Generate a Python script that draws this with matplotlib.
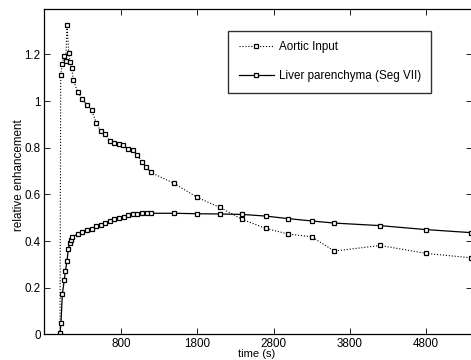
import matplotlib
matplotlib.use('Agg')
import matplotlib.pyplot as plt

# aortic input (dotted) : time [s], relative enhancement
aorta_t = [0, 9, 30, 52, 75, 92, 114, 131, 153, 175, 232, 292, 354, 415, 476, 533,
           590, 651, 712, 773, 830, 891, 953, 1013, 1075, 1131, 1193,
           1494, 1799, 2097, 2389, 2696, 2992, 3298, 3595, 4198, 4797, 5387]
aorta_y = [0.0, 1.110, 1.159, 1.193, 1.171, 1.326, 1.207, 1.166, 1.140, 1.089, 1.040,
           1.009, 0.983, 0.960, 0.907, 0.870, 0.857, 0.829, 0.821, 0.816, 0.810,
           0.794, 0.789, 0.769, 0.740, 0.716, 0.694,
           0.647, 0.587, 0.544, 0.493, 0.454, 0.430, 0.418, 0.357, 0.381, 0.347, 0.328]

# liver parenchyma (solid)
liver_t = [0, 13, 30, 56, 70, 92, 109, 131, 144, 161, 232, 292, 354, 415, 476, 533,
           594, 655, 712, 773, 835, 896, 957, 1013, 1075, 1136, 1197,
           1494, 1799, 2097, 2389, 2696, 2992, 3298, 3595, 4198, 4797, 5387]
liver_y = [0.004, 0.050, 0.171, 0.233, 0.270, 0.316, 0.367, 0.393, 0.404, 0.418,
           0.430, 0.437, 0.446, 0.453, 0.463, 0.470, 0.478, 0.486, 0.494, 0.498,
           0.504, 0.510, 0.514, 0.517, 0.519, 0.519, 0.519,
           0.519, 0.517, 0.516, 0.514, 0.507, 0.496, 0.486, 0.477, 0.466, 0.449, 0.436]

x_ticks = [800, 1800, 2800, 3800, 4800]
y_ticks = [0, 0.2, 0.4, 0.6, 0.8, 1.0, 1.2]
y_tick_labels = ['0', '0.2', '0.4', '0.6', '0.8', '1', '1.2']

plt.rcParams['font.family'] = ['Liberation Sans', 'DejaVu Sans']
plt.rcParams['font.size'] = 8.4

fig = plt.figure(figsize=(4.71, 3.6), dpi=100)
ax = fig.add_axes([44 / 471, 25.7 / 360, 428 / 471, 325.3 / 360])

ax.plot(aorta_t, aorta_y, color='black', linestyle=':', linewidth=0.8,
        marker='s', markersize=3.5, markerfacecolor='white',
        markeredgecolor='black', markeredgewidth=0.9, label='Aortic Input')
ax.plot(liver_t, liver_y, color='black', linestyle='-', linewidth=0.9,
        marker='s', markersize=3.5, markerfacecolor='white',
        markeredgecolor='black', markeredgewidth=0.9,
        label='Liver parenchyma (Seg VII)')

ax.set_xlim(-210, 5400)
ax.set_ylim(0, 1.395)
ax.set_xticks(x_ticks)
ax.set_yticks(y_ticks)
ax.set_yticklabels(y_tick_labels)
ax.tick_params(direction='in', top=True, right=True, length=4, width=0.6, pad=2.5)
for s in ax.spines.values():
    s.set_linewidth(0.9)

ax.set_xlabel('time (s)', fontsize=8)
ax.xaxis.set_label_coords(0.497, -0.044)
ax.set_ylabel('relative enhancement')
ax.yaxis.set_label_coords(-0.044, 0.49)

leg = ax.legend(loc='upper left', bbox_to_anchor=(184 / 428, 1 - 22 / 325.3),
                frameon=True, fancybox=False, edgecolor='black',
                borderpad=0.9, labelspacing=1.45, handlelength=3.0,
                handletextpad=0.45, borderaxespad=0)
leg.get_frame().set_linewidth(1.0)

fig.savefig('out.png', dpi=100)
